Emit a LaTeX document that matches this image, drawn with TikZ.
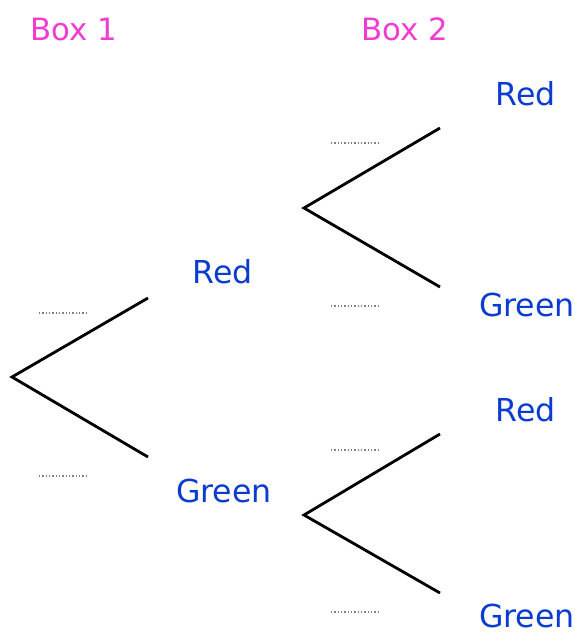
\documentclass[tikz,border=0pt]{standalone}
\usepackage{fontspec}
\setmainfont{DejaVu Sans}
\definecolor{boxpink}{HTML}{F03CD2}
\definecolor{ballblue}{HTML}{0A3CD2}
\tikzset{
	branch/.style={line width=1.6pt, black},
	blank/.style={gray, line width=0.8pt, dash pattern=on 0.8pt off 1.1pt},
	boxlabel/.style={anchor=base, text=boxpink, font=\fontsize{17.5}{20}\selectfont},
	ball/.style={anchor=base, text=ballblue, font=\fontsize{18}{21}\selectfont}
}

\begin{document}
\begin{tikzpicture}[x=0.02cm, y=-0.02cm]
				\useasboundingbox (0, 0) rectangle (575, 633);
				
				\node[boxlabel] (boxA) at (74, 40) {Box 1};
				\node[boxlabel] (boxB) at (405, 40) {Box 2};
				
				% first box
				\coordinate (rootA) at (12, 377);
				\coordinate (redA) at (148, 298);
				\coordinate (greenA) at (148, 457);
				\draw[branch] (redA) -- (rootA) -- (greenA);
				\node[ball] (redAlab) at (223, 283) {Red};
				\node[ball] (greenAlab) at (224, 502) {Green};
				\coordinate (pA1) at (39, 313);
				\coordinate (pA2) at (39, 476);
				\draw[blank] (pA1) -- ++(47, 0);
				\draw[blank] (pA2) -- ++(47, 0);
				
				% second box, after red
				\coordinate (rootR) at (304, 208);
				\coordinate (redR) at (440, 128);
				\coordinate (greenR) at (440, 287);
				\draw[branch] (redR) -- (rootR) -- (greenR);
				\node[ball] (redRlab) at (526, 105) {Red};
				\node[ball] (greenRlab) at (527, 316) {Green};
				\coordinate (pR1) at (331, 143);
				\coordinate (pR2) at (331, 306);
				\draw[blank] (pR1) -- ++(47, 0);
				\draw[blank] (pR2) -- ++(47, 0);
				
				% second box, after green
				\coordinate (rootG) at (304, 515);
				\coordinate (redG) at (440, 434);
				\coordinate (greenG) at (440, 593);
				\draw[branch] (redG) -- (rootG) -- (greenG);
				\node[ball] (redGlab) at (526, 421) {Red};
				\node[ball] (greenGlab) at (527, 627) {Green};
				\coordinate (pG1) at (331, 450);
				\coordinate (pG2) at (331, 612);
				\draw[blank] (pG1) -- ++(47, 0);
				\draw[blank] (pG2) -- ++(47, 0);
			\end{tikzpicture}
\end{document}
